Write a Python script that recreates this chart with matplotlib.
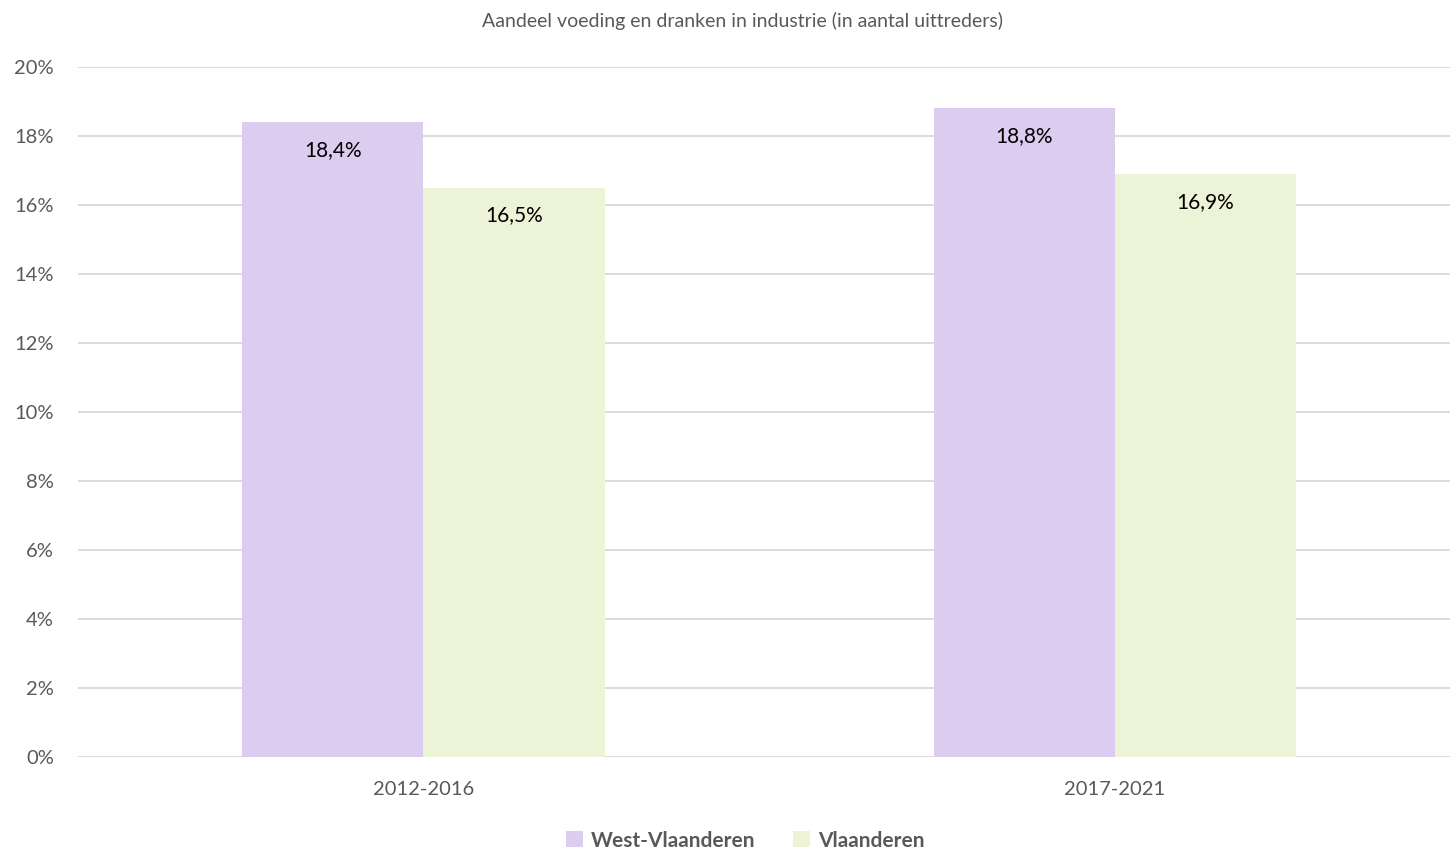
import matplotlib.pyplot as plt
import numpy as np
from matplotlib.ticker import FuncFormatter

periods = ['2012-2016', '2017-2021']
west_vl = [18.4, 18.8]
vlaanderen = [16.5, 16.9]

plt.rcParams['font.family'] = ['Lato', 'DejaVu Sans']

fig = plt.figure(figsize=(14.5, 8.49), dpi=100)
ax = fig.add_axes([0.0536, 0.1084, 0.9538, 0.8127])

x = np.arange(len(periods))
w = 0.262
b1 = ax.bar(x - w / 2, west_vl, w, color='#DCCCEF', label='West-Vlaanderen', zorder=2)
b2 = ax.bar(x + w / 2, vlaanderen, w, color='#EDF3D7', label='Vlaanderen', zorder=2)

for bars in (b1, b2):
    for rect in bars:
        h = rect.get_height()
        ax.annotate(f'{h:.1f}%'.replace('.', ','),
                    (rect.get_x() + rect.get_width() / 2, h),
                    xytext=(0, -20), textcoords='offset points',
                    ha='center', va='center', fontsize=15, color='black')

ax.set_xlim(-0.5, 1.5)
ax.set_ylim(0, 20)
ax.set_yticks(np.arange(0, 21, 2))
ax.yaxis.set_major_formatter(FuncFormatter(lambda v, p: f'{v:.0f}%'))
ax.set_xticks(x)
ax.set_xticklabels(periods)
ax.tick_params(axis='both', length=0, labelsize=14.5, colors='#595959')
ax.tick_params(axis='x', pad=17)
ax.tick_params(axis='y', pad=17)
ax.grid(axis='y', color='#D9D9D9', linewidth=1.3, zorder=0)
ax.set_axisbelow(True)
for s in ax.spines.values():
    s.set_visible(False)

fig.text(0.512, 0.975, 'Aandeel voeding en dranken in industrie (in aantal uittreders)',
         ha='center', va='center', fontsize=14, color='#595959')

leg = fig.legend(loc='center', bbox_to_anchor=(0.514, 0.01), ncol=2, frameon=False,
                 handlelength=0.8, handleheight=0.8, handletextpad=0.4, columnspacing=1.8,
                 prop={'size': 15, 'weight': 'bold'})
for t in leg.get_texts():
    t.set_color('#595959')

fig.savefig('out.png', dpi=100)
